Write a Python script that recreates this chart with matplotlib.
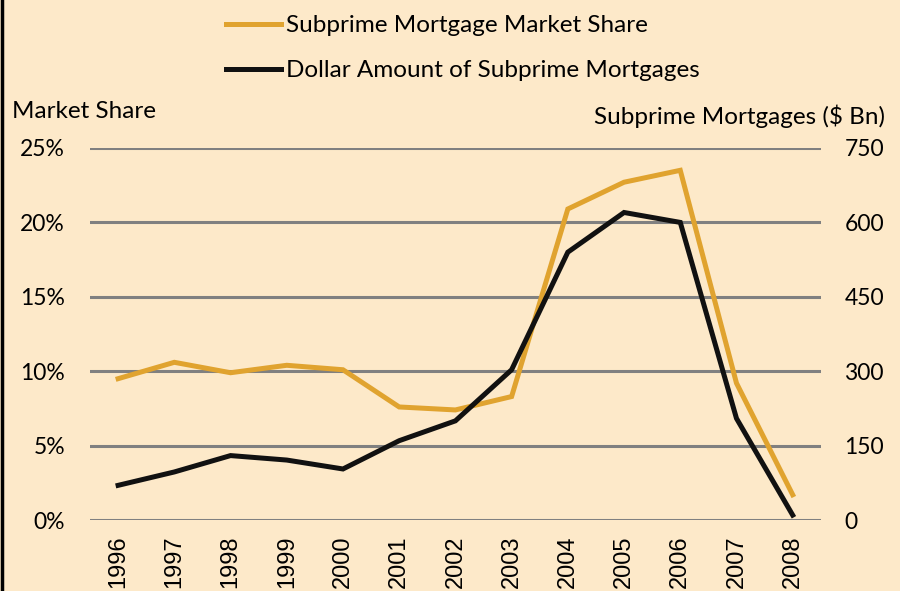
import matplotlib.pyplot as plt
from matplotlib.lines import Line2D

years = ['1996', '1997', '1998', '1999', '2000', '2001', '2002',
         '2003', '2004', '2005', '2006', '2007', '2008']
market_share = [9.5, 10.6, 9.9, 10.4, 10.1, 7.6, 7.4, 8.3, 20.9, 22.7, 23.5, 9.2, 1.7]
subprime_bn = [70, 97, 130, 121, 103, 160, 200, 303, 540, 620, 600, 205, 10]

bg = '#FDE9C9'
orange = '#E0A32F'
calibri_like = 'Lato'

fig = plt.figure(figsize=(9, 5.91), dpi=100, facecolor=bg)
ax = fig.add_axes([0.1, 0.12, 0.812, 0.6296])
ax.set_facecolor(bg)
ax2 = ax.twinx()

x = list(range(len(years)))
l1, = ax.plot(x, market_share, color=orange, lw=3.6, solid_joinstyle='miter',
              label='Subprime Mortgage Market Share')
l2, = ax2.plot(x, subprime_bn, color='#111111', lw=3.6, solid_joinstyle='miter',
               label='Dollar Amount of Subprime Mortgages')

ax.set_xlim(-0.5, len(years) - 0.5)
ax.set_ylim(0, 25)
ax2.set_ylim(0, 750)
ax.set_yticks([0, 5, 10, 15, 20, 25])
ax.set_yticklabels(['0%', '5%', '10%', '15%', '20%', '25%'],
                   fontfamily=calibri_like, fontsize=16.5)
ax2.set_yticks([0, 150, 300, 450, 600, 750])
ax2.set_yticklabels(['0', '150', '300', '450', '600', '750'],
                    fontfamily=calibri_like, fontsize=16.5)
ax.set_xticks(x)
ax.set_xticklabels(years, rotation=90, fontfamily='Liberation Sans', fontsize=17)

ax.grid(axis='y', color='#808080', lw=2.2)
ax.set_axisbelow(True)
for a in (ax, ax2):
    for s in a.spines.values():
        s.set_visible(False)
    a.tick_params(length=0)
ax.tick_params(axis='y', pad=18)
ax.tick_params(axis='x', pad=11)
ax2.tick_params(axis='y', pad=17)

fig.text(12 / 900, 1 - 111 / 591, 'Market Share', fontfamily=calibri_like,
         fontsize=17.5, ha='left', va='center')
fig.text(885 / 900, 1 - 116 / 591, 'Subprime Mortgages ($ Bn)', fontfamily=calibri_like,
         fontsize=17.5, ha='right', va='center')

fig.legend(handles=[l1, l2], loc='upper left', bbox_to_anchor=(226 / 900, 1 - 15 / 591),
           frameon=False, borderpad=0, borderaxespad=0, handlelength=2.25,
           handletextpad=0.22, labelspacing=1.0,
           prop={'family': calibri_like, 'size': 17.5})

# dark edge on the left side
fig.add_artist(Line2D([0.0017, 0.0017], [0, 1], color='black', lw=2.5,
                      transform=fig.transFigure))

fig.savefig('out.png', dpi=100, facecolor=bg)
